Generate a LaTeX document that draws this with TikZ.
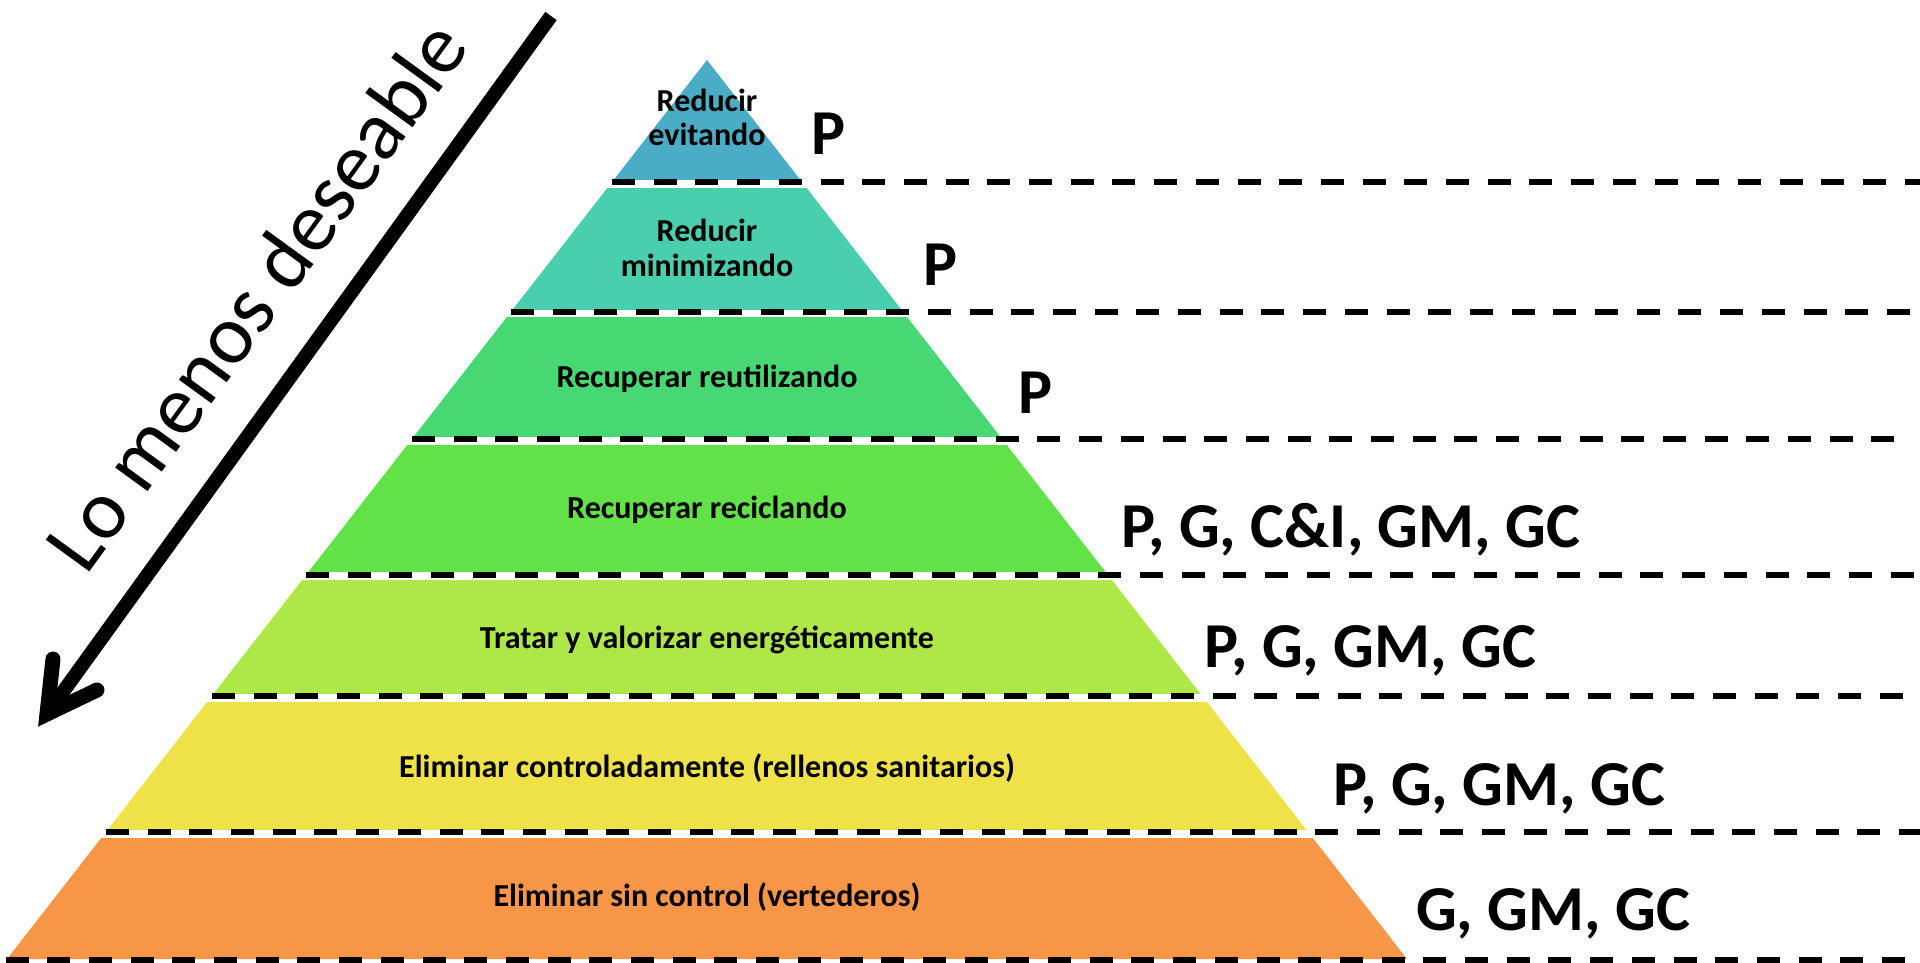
\documentclass[tikz,border=0pt]{standalone}
\usepackage{fontspec}
\setmainfont{Carlito}
\definecolor{lvA}{HTML}{4BACC6}
\definecolor{lvB}{HTML}{4ACFAE}
\definecolor{lvC}{HTML}{47D874}
\definecolor{lvD}{HTML}{62E148}
\definecolor{lvE}{HTML}{AEE848}
\definecolor{lvF}{HTML}{EFE148}
\definecolor{lvG}{HTML}{F79646}
\begin{document}
\begin{tikzpicture}[x=1pt,y=-1pt,
  levelline/.style={line width=5.5pt, dash pattern=on 23pt off 18.7pt},
  bandtext/.style={font=\fontsize{32}{38}\selectfont\bfseries, inner sep=0pt, anchor=base},
  whotext/.style={font=\fontsize{64}{74}\selectfont\bfseries, inner sep=0pt, anchor=base west},
  sidetext/.style={font=\fontsize{84}{96}\selectfont, inner sep=0pt, anchor=base, rotate=54},
  shaft/.style={line width=14pt},
  headstroke/.style={line width=15pt, line cap=round, line join=miter, miter limit=10}]
\useasboundingbox (0,0) rectangle (1920,963);
\fill[white] (0,0) rectangle (1920,963);

% pyramid outline, cut into horizontal bands
\coordinate (apex) at (707,60);
\coordinate (baseL) at (7,959);
\coordinate (baseR) at (1407,959);
\begin{scope}
  \clip (apex) -- (baseL) -- (baseR) -- cycle;
  \fill[lvA] (0,0)   rectangle (1920,180);
  \fill[lvB] (0,188) rectangle (1920,310);
  \fill[lvC] (0,317) rectangle (1920,437);
  \fill[lvD] (0,445) rectangle (1920,572);
  \fill[lvE] (0,580) rectangle (1920,694);
  \fill[lvF] (0,702) rectangle (1920,830);
  \fill[lvG] (0,838) rectangle (1920,963);
\end{scope}

% dashed level lines
\foreach \i/\yy/\xs/\xe in {1/182/612/1920, 2/312/510.8/1920, 3/439/411.9/1905,
    4/575/306/1920, 5/696/211.8/1920, 6/832/105.9/1920, 7/960/5.5/1920} {
  \coordinate (ls\i) at (\xs,\yy);
  \coordinate (le\i) at (\xe,\yy);
  \draw[levelline] (ls\i) -- (le\i);
}

% band labels
\node[bandtext] (b1a) at (707,111.7) {Reducir};
\node[bandtext] (b1b) at (707,146) {evitando};
\node[bandtext] (b2a) at (707,241.7) {Reducir};
\node[bandtext] (b2b) at (707,276) {minimizando};
\node[bandtext] (b3) at (707,387) {Recuperar reutilizando};
\node[bandtext] (b4) at (707,518) {Recuperar reciclando};
\node[bandtext] (b5) at (707,648) {Tratar y valorizar energéticamente};
\node[bandtext] (b6) at (707,777) {Eliminar controladamente (rellenos sanitarios)};
\node[bandtext] (b7) at (707,906) {Eliminar sin control (vertederos)};

% who takes part at each level
\node[whotext] (w1) at (811,155) {P};
\node[whotext] (w2) at (923,285) {P};
\node[whotext] (w3) at (1018,413) {P};
\node[whotext] (w4) at (1121,547) {P, G, C\&I, GM, GC};
\node[whotext] (w5) at (1204,667) {P, G, GM, GC};
\node[whotext] (w6) at (1333,805) {P, G, GM, GC};
\node[whotext] (w7) at (1416,930) {G, GM, GC};

% direction arrow
\coordinate (arrowtop) at (551,16);
\coordinate (arrowtip) at (47,714);
\coordinate (headL) at (53,659);
\coordinate (headR) at (97,690);
\draw[shaft] (arrowtop) -- (arrowtip);
\draw[headstroke] (headL) -- (arrowtip) -- (headR);
\node[sidetext] (side) at (279,312) {Lo menos deseable};
\end{tikzpicture}
\end{document}
